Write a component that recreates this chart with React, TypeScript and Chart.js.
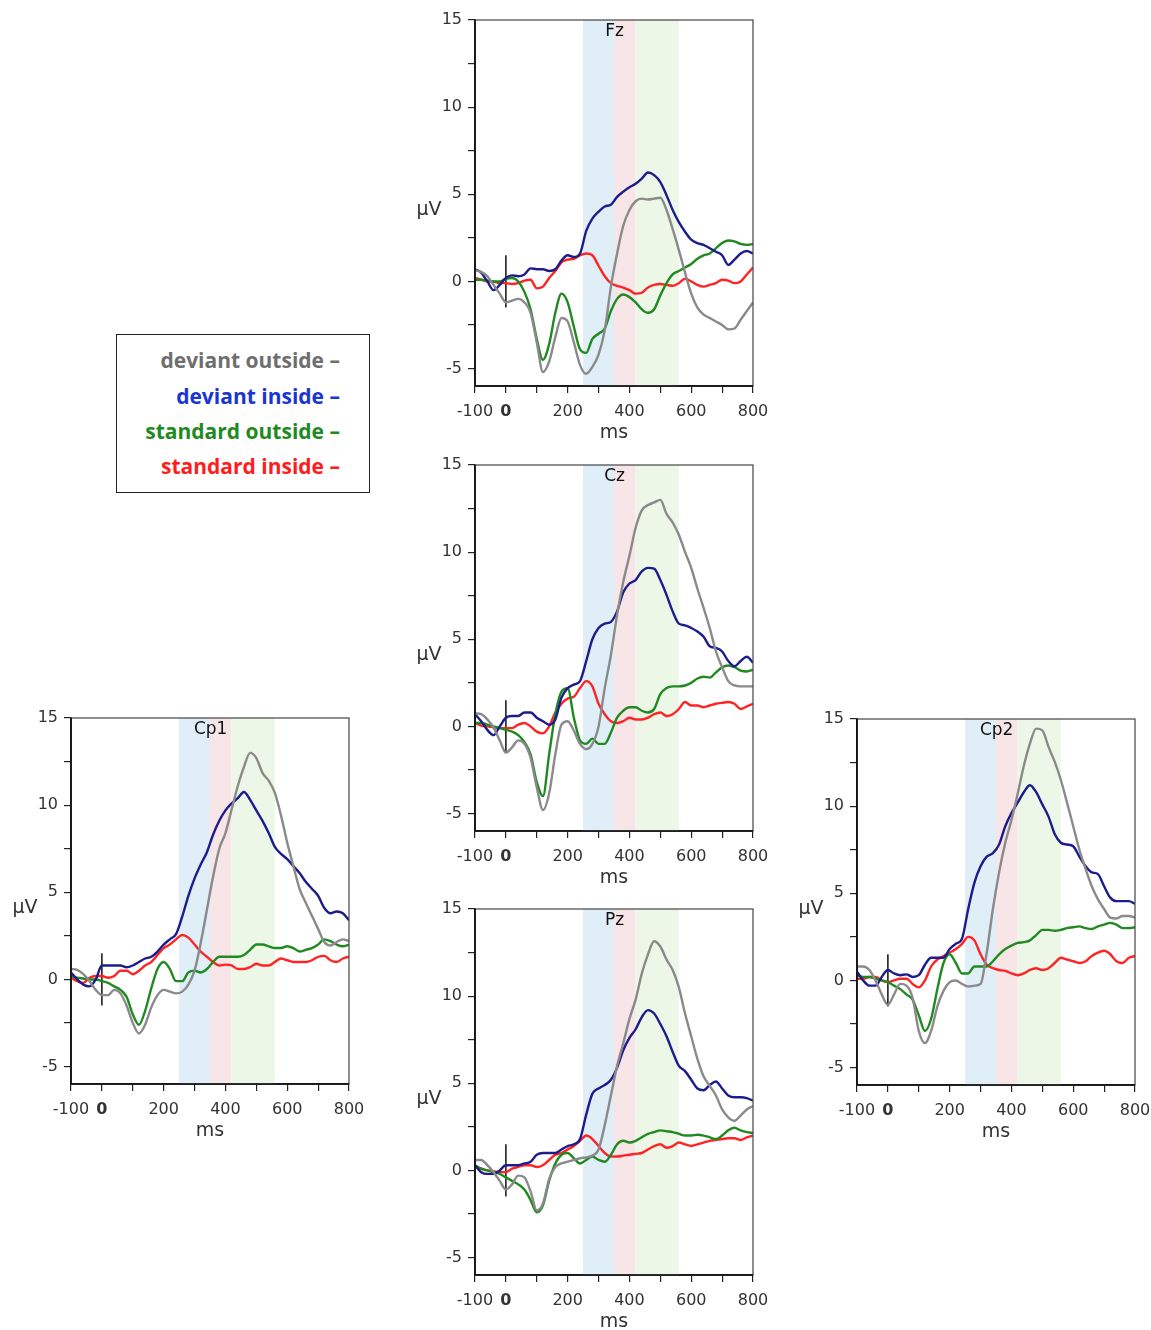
import React, { useEffect, useRef } from 'react';
import { Chart, registerables } from 'chart.js';

Chart.register(...registerables);

// ---------- data ----------
const times = [-100, -80, -60, -40, -20, 0, 20, 40, 60, 80, 100, 120, 140, 160, 180, 200, 220, 240, 260, 280, 300, 320, 340, 360, 380, 400, 420, 440, 460, 480, 500, 520, 540, 560, 580, 600, 620, 640, 660, 680, 700, 720, 740, 760, 780, 800];

const seriesNames = ['deviant outside', 'deviant inside', 'standard outside', 'standard inside'];

const xTickLabels = [-100, 0, 200, 400, 600, 800];
const yTickLabels = [-5, 0, 5, 10, 15];

const bandStarts = [250, 350, 420];
const bandEnds = [350, 420, 560];

const markerTop = 1.5;
const markerBottom = -1.5;

// Fz
const fzDevOut = [0.65, 0.55, 0.3, -0.2, -0.7, -1.2, -1.1, -1.0, -1.2, -1.8, -3.5, -5.2, -4.6, -3.2, -2.1, -2.3, -3.5, -4.8, -5.3, -4.9, -4.2, -2.8, -0.3, 1.6, 3.2, 4.1, 4.6, 4.75, 4.7, 4.75, 4.8, 4.1, 3.0, 1.8, 0.5, -0.7, -1.5, -1.9, -2.1, -2.3, -2.5, -2.75, -2.7, -2.2, -1.7, -1.2];
const fzDevIn = [0.7, 0.5, 0.0, -0.5, -0.2, 0.2, 0.35, 0.3, 0.4, 0.75, 0.7, 0.7, 0.6, 0.7, 1.2, 1.5, 1.4, 1.6, 2.9, 3.6, 4.0, 4.3, 4.4, 4.85, 5.15, 5.4, 5.6, 5.9, 6.25, 6.1, 5.7, 4.95, 4.1, 3.4, 2.85, 2.4, 2.2, 2.1, 1.9, 1.7, 1.5, 0.95, 1.25, 1.6, 1.75, 1.6];
const fzStdOut = [0.1, 0.1, 0.05, 0.0, 0.0, 0.15, 0.2, 0.0, -0.6, -1.6, -3.3, -4.5, -3.6, -1.8, -0.7, -1.2, -2.6, -3.9, -4.1, -3.3, -3.0, -2.7, -1.7, -1.0, -0.75, -0.9, -1.2, -1.6, -1.8, -1.6, -0.8, -0.1, 0.4, 0.6, 0.8, 1.0, 1.3, 1.5, 1.6, 1.9, 2.2, 2.35, 2.3, 2.15, 2.1, 2.15];
const fzStdIn = [0.2, 0.1, 0.0, 0.0, -0.1, -0.1, -0.15, -0.1, 0.05, 0.1, -0.4, -0.3, 0.2, 0.6, 1.1, 1.25, 1.3, 1.5, 1.6, 1.5, 0.9, 0.3, -0.1, -0.25, -0.35, -0.5, -0.7, -0.65, -0.35, -0.2, -0.15, -0.2, -0.25, -0.1, 0.15, 0.0, -0.2, -0.3, -0.2, -0.1, 0.1, 0.05, -0.1, 0.0, 0.4, 0.8];

// Cz
const czDevOut = [0.75, 0.7, 0.4, -0.05, -0.8, -1.5, -1.2, -0.8, -1.0, -1.8, -3.5, -4.8, -3.85, -1.6, 0.1, 0.3, -0.25, -1.0, -1.3, -1.0, 0.0, 2.2, 4.1, 6.4, 8.3, 9.8, 11.4, 12.4, 12.7, 12.85, 13.0, 12.2, 11.7, 11.0, 10.0, 9.1, 7.9, 6.8, 5.65, 4.3, 3.4, 2.6, 2.35, 2.3, 2.3, 2.3];
const czDevIn = [0.7, 0.3, -0.2, -0.5, 0.0, 0.5, 0.6, 0.6, 0.8, 0.8, 0.5, 0.3, 0.1, 0.4, 1.65, 2.2, 2.4, 2.6, 3.75, 5.0, 5.65, 5.9, 6.0, 6.6, 7.7, 8.2, 8.4, 8.9, 9.1, 9.05, 8.4, 7.55, 6.6, 5.9, 5.8, 5.65, 5.45, 5.15, 4.6, 4.5, 4.3, 3.75, 3.45, 3.75, 4.0, 3.65];
const czStdOut = [0.2, 0.2, 0.1, 0.0, -0.1, -0.2, -0.3, -0.5, -0.9, -1.6, -3.2, -4.0, -1.6, 0.7, 2.0, 2.2, 0.5, -0.8, -1.0, -0.7, -1.0, -1.0, -0.35, 0.5, 0.9, 1.1, 1.1, 0.9, 0.8, 1.0, 1.85, 2.2, 2.3, 2.3, 2.35, 2.5, 2.75, 2.85, 2.8, 3.1, 3.4, 3.5, 3.4, 3.2, 3.15, 3.25];
const czStdIn = [0.2, 0.05, 0.0, -0.05, -0.1, -0.1, -0.1, 0.1, 0.2, 0.0, -0.3, -0.4, 0.0, 0.8, 1.3, 1.6, 1.7, 2.2, 2.6, 2.3, 1.3, 0.7, 0.3, 0.2, 0.3, 0.5, 0.4, 0.4, 0.5, 0.7, 0.8, 0.6, 0.7, 1.0, 1.4, 1.2, 1.2, 1.1, 1.2, 1.3, 1.35, 1.4, 1.3, 1.0, 1.15, 1.3];

// Pz
const pzDevOut = [0.6, 0.6, 0.3, -0.1, -0.6, -1.1, -0.8, -0.3, -0.4, -1.2, -2.3, -1.9, -0.5, 0.2, 0.4, 0.5, 0.6, 0.7, 0.75, 0.85, 1.2, 2.6, 4.3, 6.0, 7.3, 8.7, 9.8, 11.3, 12.4, 13.15, 12.85, 12.1, 11.5, 10.5, 9.0, 7.7, 6.4, 5.4, 4.85, 4.3, 3.5, 3.05, 2.85, 3.15, 3.5, 3.7];
const pzDevIn = [0.3, -0.1, -0.2, -0.2, 0.0, 0.3, 0.3, 0.3, 0.4, 0.5, 0.9, 1.0, 1.0, 1.0, 1.2, 1.4, 1.5, 1.8, 3.2, 4.4, 4.7, 4.9, 5.2, 5.9, 6.9, 7.6, 8.1, 8.8, 9.2, 9.0, 8.4, 7.7, 6.8, 6.0, 5.7, 5.2, 4.7, 4.6, 4.9, 5.1, 4.7, 4.3, 4.2, 4.2, 4.15, 4.0];
const pzStdOut = [0.3, 0.1, 0.0, -0.1, -0.2, -0.4, -0.6, -0.8, -1.1, -1.7, -2.4, -2.0, -0.6, 0.4, 0.9, 1.0, 0.7, 0.4, 0.6, 0.8, 0.6, 0.5, 0.9, 1.5, 1.7, 1.6, 1.7, 1.9, 2.1, 2.2, 2.3, 2.25, 2.2, 2.1, 2.0, 2.0, 2.05, 2.0, 1.9, 1.8, 2.0, 2.3, 2.45, 2.3, 2.2, 2.15];
const pzStdIn = [0.2, 0.1, 0.0, -0.05, -0.1, -0.1, 0.1, 0.2, 0.3, 0.3, 0.2, 0.3, 0.6, 0.9, 1.0, 1.2, 1.4, 1.7, 2.0, 1.8, 1.4, 1.0, 0.8, 0.8, 0.85, 0.9, 0.95, 1.0, 1.2, 1.4, 1.5, 1.3, 1.4, 1.6, 1.5, 1.4, 1.5, 1.6, 1.7, 1.75, 1.8, 1.85, 1.85, 1.75, 1.9, 2.0];

// Cp1
const cp1DevOut = [0.6, 0.55, 0.3, -0.1, -0.6, -0.9, -0.9, -0.6, -0.8, -1.5, -2.5, -3.1, -2.6, -1.6, -0.9, -0.6, -0.7, -0.8, -0.7, -0.3, 0.5, 2.1, 4.0, 5.9, 7.5, 8.4, 9.75, 11.1, 12.2, 13.0, 12.7, 11.85, 11.4, 10.7, 9.4, 7.85, 6.5, 5.2, 4.4, 3.65, 2.9, 2.15, 1.95, 2.15, 2.3, 2.2];
const cp1DevIn = [0.4, 0.0, -0.3, -0.4, 0.0, 0.8, 0.8, 0.8, 0.8, 0.7, 0.8, 1.0, 1.2, 1.3, 1.6, 2.0, 2.3, 2.6, 3.6, 4.8, 5.8, 6.6, 7.3, 8.3, 9.1, 9.7, 10.1, 10.4, 10.75, 10.3, 9.7, 9.1, 8.4, 7.6, 7.2, 6.9, 6.5, 6.1, 5.6, 5.2, 4.8, 4.1, 3.8, 3.9, 3.8, 3.4];
const cp1StdOut = [0.2, 0.1, 0.05, 0.0, 0.0, -0.1, -0.2, -0.4, -0.6, -1.0, -2.0, -2.6, -1.8, -0.5, 0.6, 1.0, 0.6, -0.1, -0.1, 0.4, 0.5, 0.4, 0.6, 1.0, 1.3, 1.3, 1.3, 1.3, 1.4, 1.7, 2.0, 2.0, 1.9, 1.8, 1.8, 1.9, 1.8, 1.6, 1.7, 1.8, 2.0, 2.3, 2.2, 2.0, 1.9, 2.0];
const cp1StdIn = [0.1, -0.1, -0.2, 0.1, 0.2, 0.2, 0.1, 0.2, 0.5, 0.5, 0.3, 0.5, 0.8, 1.0, 1.4, 1.8, 2.0, 2.3, 2.55, 2.4, 2.0, 1.6, 1.3, 1.0, 0.8, 0.85, 0.8, 0.6, 0.6, 0.7, 0.9, 0.8, 0.8, 1.0, 1.2, 1.1, 1.0, 1.0, 1.0, 1.1, 1.3, 1.35, 1.1, 1.0, 1.2, 1.3];

// Cp2
const cp2DevOut = [0.8, 0.8, 0.6, 0.0, -0.8, -1.4, -0.8, -0.2, -0.3, -1.0, -2.9, -3.6, -2.9, -1.5, -0.6, -0.1, 0.0, -0.2, -0.35, -0.3, -0.2, 1.6, 4.1, 6.2, 7.9, 9.2, 10.7, 12.3, 13.6, 14.45, 14.35, 13.4, 12.55, 11.5, 10.2, 8.85, 7.5, 6.4, 5.4, 4.65, 4.1, 3.6, 3.55, 3.7, 3.7, 3.6];
const cp2DevIn = [0.5, 0.0, -0.3, -0.3, 0.2, 0.6, 0.4, 0.3, 0.35, 0.2, 0.3, 0.9, 1.3, 1.3, 1.3, 1.8, 2.1, 2.4, 4.1, 5.6, 6.55, 7.1, 7.3, 7.8, 8.85, 9.6, 10.2, 10.8, 11.2, 10.8, 10.1, 9.4, 8.4, 7.9, 7.8, 7.7, 7.1, 6.55, 6.2, 6.1, 5.4, 4.75, 4.55, 4.55, 4.55, 4.4];
const cp2StdOut = [0.3, 0.2, 0.2, 0.1, 0.0, -0.1, -0.3, -0.5, -0.8, -1.1, -2.0, -2.9, -2.2, -0.5, 1.0, 1.5, 1.0, 0.4, 0.4, 0.8, 0.8, 0.8, 1.1, 1.5, 1.8, 2.0, 2.15, 2.2, 2.3, 2.6, 2.9, 2.9, 2.85, 2.9, 3.0, 3.05, 3.1, 3.0, 2.95, 3.1, 3.2, 3.3, 3.2, 3.0, 3.0, 3.05];
const cp2StdIn = [0.1, 0.1, 0.2, 0.2, 0.0, -0.1, 0.0, 0.1, 0.1, -0.2, -0.4, 0.0, 0.8, 1.2, 1.4, 1.6, 1.8, 2.1, 2.5, 2.3, 1.5, 0.9, 0.7, 0.6, 0.55, 0.4, 0.3, 0.4, 0.6, 0.7, 0.6, 0.7, 1.0, 1.3, 1.2, 1.1, 1.0, 1.1, 1.4, 1.6, 1.7, 1.5, 1.1, 1.0, 1.3, 1.4];

// ---------- styles ----------
const lineColors = ['#8a8a8a', '#1c1c8c', '#208a20', '#ff2424'];
const legendColors = ['#6e6e6e', '#1a36d2', '#1f8a1f', '#ff1c1c'];
const bandColors = ['#e0eef8', '#f8e5e7', '#ecf7e8'];

const FONT = "'DejaVu Sans', Verdana, sans-serif";
const AXIS_W = 70;
const PAD_T = 20;
const PAD_R = 30;
const AXIS_H = 60;
const PLOT_W = 278;
const PLOT_H = 366;
const CW = AXIS_W + PLOT_W + PAD_R;
const CH = PAD_T + PLOT_H + AXIS_H;

const decorPlugin = (name: string) => ({
  id: 'decor',
  beforeDatasetsDraw(chart: any) {
    const { ctx, chartArea: a, scales } = chart;
    const x = scales.x;
    ctx.save();
    bandStarts.forEach((s, i) => {
      const x1 = x.getPixelForValue(s);
      const x2 = x.getPixelForValue(bandEnds[i]);
      ctx.fillStyle = bandColors[i];
      ctx.fillRect(x1, a.top, x2 - x1, a.bottom - a.top);
    });
    ctx.restore();
  },
  afterDraw(chart: any) {
    const { ctx, chartArea: a, scales } = chart;
    const x = scales.x;
    const y = scales.y;
    ctx.save();
    ctx.strokeStyle = '#444';
    ctx.lineWidth = 1.2;
    ctx.strokeRect(a.left, a.top, a.right - a.left, a.bottom - a.top);
    ctx.strokeStyle = '#111';
    ctx.lineWidth = 1.6;
    ctx.beginPath();
    ctx.moveTo(a.left, a.top);
    ctx.lineTo(a.left, a.bottom);
    ctx.lineTo(a.right, a.bottom);
    ctx.stroke();
    ctx.fillStyle = '#111';
    ctx.textAlign = 'center';
    ctx.textBaseline = 'middle';
    ctx.font = `17px ${FONT}`;
    ctx.fillText(name, x.getPixelForValue(352), a.top + 12);
    ctx.fillStyle = '#333';
    ctx.font = `19px ${FONT}`;
    ctx.fillText('\u00b5V', a.left - 46, y.getPixelForValue(4.1));
    ctx.fillText('ms', (a.left + a.right) / 2, a.bottom + 47);
    ctx.restore();
  },
});

type PanelProps = { name: string; series: number[][]; left: number; top: number };

function Panel({ name, series, left, top }: PanelProps) {
  const ref = useRef<HTMLCanvasElement>(null);
  useEffect(() => {
    const canvas = ref.current;
    if (!canvas) return;
    const datasets: any[] = series.map((vals, i) => ({
      label: seriesNames[i],
      data: times.map((t, j) => ({ x: t, y: vals[j] })),
      borderColor: lineColors[i],
      borderWidth: 2.4,
      pointRadius: 0,
      fill: false,
      cubicInterpolationMode: 'monotone',
    }));
    datasets.push({
      label: 'stimulus',
      data: [
        { x: 0, y: markerTop },
        { x: 0, y: markerBottom },
      ],
      borderColor: '#111',
      borderWidth: 1.5,
      pointRadius: 0,
      fill: false,
    });
    const chart = new Chart(canvas, {
      type: 'line',
      data: { datasets },
      options: {
        animation: false,
        responsive: false,
        maintainAspectRatio: false,
        devicePixelRatio: 1,
        layout: { padding: { left: 0, top: PAD_T, right: PAD_R, bottom: 0 } },
        plugins: { legend: { display: false }, tooltip: { enabled: false }, title: { display: false } },
        scales: {
          x: {
            type: 'linear',
            min: -100,
            max: 800,
            border: { display: true, color: '#111', width: 1.6 },
            grid: { drawOnChartArea: false, drawTicks: true, tickLength: 7, color: '#222', lineWidth: 1.2 },
            ticks: {
              stepSize: 100,
              autoSkip: false,
              maxRotation: 0,
              padding: 9,
              color: '#333',
              font: (ctx: any) => ({
                family: FONT,
                size: 16,
                weight: ctx.tick && ctx.tick.value === 0 ? 'bold' : 'normal',
              }),
              callback: (v: any) => (xTickLabels.includes(Number(v)) ? String(v) : ''),
            },
            afterFit: (s: any) => {
              s.height = AXIS_H;
            },
          },
          y: {
            type: 'linear',
            min: -6,
            max: 15,
            border: { display: true, color: '#111', width: 1.6 },
            grid: { drawOnChartArea: false, drawTicks: true, tickLength: 7, color: '#222', lineWidth: 1.2 },
            ticks: {
              stepSize: 2.5,
              includeBounds: false,
              autoSkip: false,
              padding: 6,
              color: '#333',
              font: { family: FONT, size: 16 },
              callback: (v: any) => (yTickLabels.includes(Number(v)) ? String(v) : ''),
            },
            afterFit: (s: any) => {
              s.width = AXIS_W;
            },
          },
        },
      },
      plugins: [decorPlugin(name)],
    } as any);
    return () => chart.destroy();
  }, []);
  return (
    <canvas
      ref={ref}
      width={CW}
      height={CH}
      style={{ position: 'absolute', left: left - AXIS_W, top: top - PAD_T, width: CW, height: CH, display: 'block' }}
    />
  );
}

const legendCenters = [360, 396, 431, 466];

export default function App() {
  return (
    <div
      style={{
        position: 'absolute',
        left: 0,
        top: 0,
        width: 1151,
        height: 1330,
        overflow: 'hidden',
        background: '#fff',
      }}
    >
      <Panel name="Fz" series={[fzDevOut, fzDevIn, fzStdOut, fzStdIn]} left={475} top={20} />
      <Panel name="Cz" series={[czDevOut, czDevIn, czStdOut, czStdIn]} left={475} top={465} />
      <Panel name="Pz" series={[pzDevOut, pzDevIn, pzStdOut, pzStdIn]} left={475} top={909} />
      <Panel name="Cp1" series={[cp1DevOut, cp1DevIn, cp1StdOut, cp1StdIn]} left={71} top={718} />
      <Panel name="Cp2" series={[cp2DevOut, cp2DevIn, cp2StdOut, cp2StdIn]} left={857} top={719} />
      <div
        style={{
          position: 'absolute',
          left: 116,
          top: 334,
          width: 254,
          height: 159,
          border: '1.5px solid #222',
          boxSizing: 'border-box',
        }}
      />
      {seriesNames.map((n, i) => (
        <div
          key={n}
          style={{
            position: 'absolute',
            left: 116,
            width: 224,
            top: legendCenters[i] - 15,
            height: 30,
            lineHeight: '30px',
            textAlign: 'right',
            fontFamily: "'Open Sans', sans-serif",
            fontWeight: 700,
            fontSize: 21,
            color: legendColors[i],
            whiteSpace: 'nowrap',
          }}
        >
          {n} {'\u2013'}
        </div>
      ))}
    </div>
  );
}
